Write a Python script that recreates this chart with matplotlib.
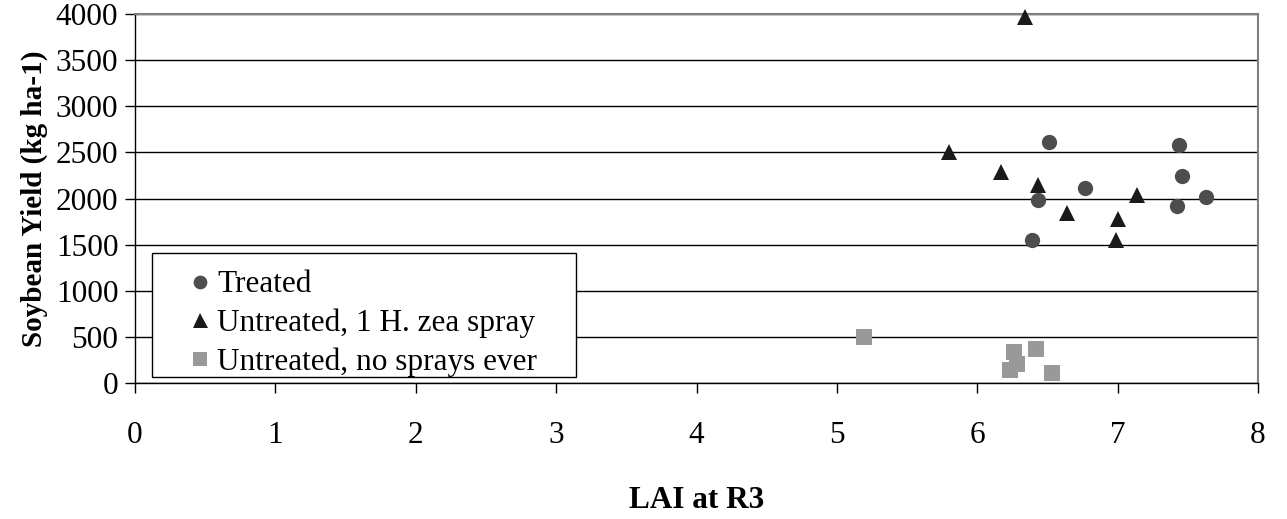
import matplotlib.pyplot as plt
from matplotlib.patches import Rectangle

# LAI at R3 vs soybean yield
treated_x = [6.51, 7.44, 7.46, 6.77, 6.43, 7.63, 7.42, 6.39]
treated_y = [2609, 2580, 2247, 2117, 1980, 2020, 1915, 1554]

one_spray_x = [6.34, 5.80, 6.17, 6.43, 7.14, 6.64, 7.00, 6.99]
one_spray_y = [3964, 2507, 2284, 2146, 2041, 1846, 1774, 1550]

no_spray_x = [5.19, 6.26, 6.42, 6.28, 6.23, 6.53]
no_spray_y = [502, 332, 368, 206, 141, 108]

plt.rcParams['font.family'] = ['Liberation Serif', 'DejaVu Serif']

fig = plt.figure(figsize=(12.87, 5.19), dpi=100)
ax = fig.add_axes([0.1049, 0.262, 0.8726, 0.711])

ax.plot(treated_x, treated_y, 'o', color='#4d4d4d', markersize=11,
        markeredgewidth=0, label='Treated', clip_on=False, zorder=3)
ax.plot(one_spray_x, one_spray_y, '^', color='#1a1a1a', markersize=12,
        markeredgewidth=0, label='Untreated, 1 H. zea spray', clip_on=False, zorder=3)
ax.plot(no_spray_x, no_spray_y, 's', color='#999999', markersize=11,
        markeredgewidth=0, label='Untreated, no sprays ever', clip_on=False, zorder=3)

ax.set_xlim(0, 8)
ax.set_ylim(0, 4000)
ax.set_xticks(range(0, 9))
ax.set_yticks(range(0, 4001, 500))
ax.yaxis.grid(True, color='black', linewidth=1)
ax.set_axisbelow(True)

for s in ['top', 'right']:
    ax.spines[s].set_color('#808080')
    ax.spines[s].set_linewidth(1.5)
for s in ['left', 'bottom']:
    ax.spines[s].set_color('black')
    ax.spines[s].set_linewidth(1)

ax.tick_params(axis='x', direction='out', length=7, width=1, labelsize=22.5, pad=20)
ax.tick_params(axis='y', direction='out', length=7, width=1, labelsize=22.5, pad=5)

ax.set_xlabel('LAI at R3', fontsize=22.5, fontweight='bold', labelpad=26)
ax.set_ylabel('Soybean Yield (kg ha-1)', fontsize=21, fontweight='bold', labelpad=6)

# legend box drawn separately so its padding matches the original
box = Rectangle((0.0151, 0.0163), 0.378, 0.336, transform=ax.transAxes,
                facecolor='white', edgecolor='black', linewidth=1, zorder=4,
                clip_on=False)
ax.add_patch(box)

leg = ax.legend(loc='upper left', bbox_to_anchor=(0.044, 0.305), fontsize=22.5,
                frameon=False, borderpad=0, handletextpad=0.05,
                labelspacing=0.3, handlelength=1.0, borderaxespad=0,
                markerscale=0.9)
leg.set_zorder(5)

fig.savefig('out.png', dpi=100)
